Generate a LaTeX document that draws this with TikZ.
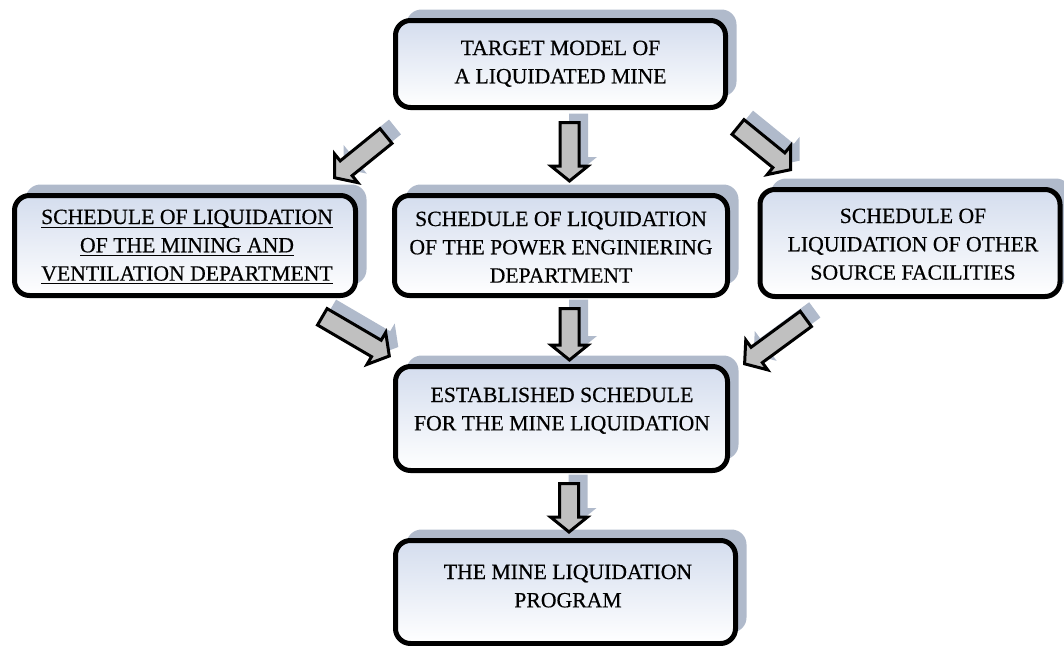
\documentclass[tikz,border=0pt]{standalone}
\usepackage{fontspec}
\setmainfont{Liberation Serif}[FakeBold=0.5]
\usetikzlibrary{calc,shadows}

\definecolor{shadowc}{RGB}{176,186,203}
\definecolor{arrowfill}{RGB}{192,192,192}
\definecolor{boxtop}{RGB}{212,221,238}

% underlined line of text with a thin rule just below the baseline
\newcommand\ulline[1]{\setbox0\hbox{#1}\rlap{\rule[-3.8pt]{\wd0}{1pt}}\box0}

% outline points of a block arrow: #1 name, #2 tail, #3 tip
\newcommand\arrowpoints[3]{%
  \coordinate (#1-b) at ($(#3)!15pt!(#2)$);
  \coordinate (#1-1) at ($(#2)!9.5pt!90:(#3)$);
  \coordinate (#1-2) at ($(#1-b)!9.5pt!-90:(#2)$);
  \coordinate (#1-3) at ($(#1-b)!18.5pt!-90:(#2)$);
  \coordinate (#1-4) at ($(#1-b)!18.5pt!90:(#2)$);
  \coordinate (#1-5) at ($(#1-b)!9.5pt!90:(#2)$);
  \coordinate (#1-6) at ($(#2)!9.5pt!-90:(#3)$);
}
\newcommand\arrowshade[3]{%
  \fill[arrowshadow]
    ([xshift=9pt,yshift=9pt]#1-1) -- ([xshift=9pt,yshift=9pt]#1-2) --
    ([xshift=9pt,yshift=9pt]#1-3) -- ([xshift=9pt,yshift=9pt]#3) --
    ([xshift=9pt,yshift=9pt]#1-4) -- ([xshift=9pt,yshift=9pt]#1-5) --
    ([xshift=9pt,yshift=9pt]#1-6) -- cycle;
}
\newcommand\arrowbody[3]{%
  \draw[blockarrow] (#1-1) -- (#1-2) -- (#1-3) -- (#3) -- (#1-4) -- (#1-5) -- (#1-6) -- cycle;
}

\tikzset{
  box/.style={draw=black, line width=5pt, rounded corners=15pt,
    top color=boxtop, bottom color=white, inner sep=0pt, outer sep=0pt,
    drop shadow={shadow xshift=11pt, shadow yshift=11pt, fill=shadowc, opacity=1}},
  boxtext/.style={anchor=base, inner sep=0pt, outer sep=0pt,
    font=\fontsize{21.7}{28.3}\selectfont},
  blockarrow/.style={draw=black, line width=3pt, fill=arrowfill, line join=miter},
  arrowshadow/.style={fill=shadowc},
}

\begin{document}
\begin{tikzpicture}[x=1pt,y=-1pt]
\path[use as bounding box] (0,0) rectangle (1064,645);

% arrow ends
\coordinate (t12) at (386,136);     \coordinate (h12) at (334.5,177.7);
\coordinate (t13) at (569.5,122.5); \coordinate (h13) at (569.5,181);
\coordinate (t14) at (738,127);     \coordinate (h14) at (790.5,169.7);
\coordinate (t25) at (322.3,316.8); \coordinate (h25) at (389.3,356);
\coordinate (t35) at (569.5,308.5); \coordinate (h35) at (569.5,360);
\coordinate (t45) at (805.8,318.9); \coordinate (h45) at (744.6,363.8);
\coordinate (t56) at (569,483.5);   \coordinate (h56) at (569,532);

\arrowpoints{a12}{t12}{h12}
\arrowpoints{a13}{t13}{h13}
\arrowpoints{a14}{t14}{h14}
\arrowpoints{a25}{t25}{h25}
\arrowpoints{a35}{t35}{h35}
\arrowpoints{a45}{t45}{h45}
\arrowpoints{a56}{t56}{h56}

% arrow shadows
\arrowshade{a12}{t12}{h12}
\arrowshade{a13}{t13}{h13}
\arrowshade{a14}{t14}{h14}
\arrowshade{a25}{t25}{h25}
\arrowshade{a35}{t35}{h35}
\arrowshade{a45}{t45}{h45}
\arrowshade{a56}{t56}{h56}

% boxes
\node[box, minimum width=330pt, minimum height=87pt]  (target)   at (560.5,64)  {};
\node[box, minimum width=341pt, minimum height=100pt] (mining)   at (185,245.5) {};
\node[box, minimum width=333pt, minimum height=100pt] (power)    at (561,245.5) {};
\node[box, minimum width=300pt, minimum height=107pt] (other)    at (910,243) {};
\node[box, minimum width=332pt, minimum height=104pt] (schedule) at (561.5,418.5) {};
\node[box, minimum width=340pt, minimum height=103pt] (program)  at (565.5,592) {};

% arrows
\arrowbody{a12}{t12}{h12}
\arrowbody{a13}{t13}{h13}
\arrowbody{a14}{t14}{h14}
\arrowbody{a25}{t25}{h25}
\arrowbody{a35}{t35}{h35}
\arrowbody{a45}{t45}{h45}
\arrowbody{a56}{t56}{h56}

% texts
\node[boxtext] (target-t) at (560.5,55) {\begin{tabular}[t]{@{}c@{}}TARGET MODEL OF\\A LIQUIDATED MINE\end{tabular}};
\node[boxtext] (mining-t) at (187,224) {\begin{tabular}[t]{@{}c@{}}\ulline{SCHEDULE OF LIQUIDATION}\\\ulline{OF THE MINING AND}\\\ulline{VENTILATION DEPARTMENT}\end{tabular}};
\node[boxtext] (power-t) at (561,226) {\begin{tabular}[t]{@{}c@{}}SCHEDULE OF LIQUIDATION\\OF THE POWER ENGINIERING\\DEPARTMENT\end{tabular}};
\node[boxtext] (other-t) at (913,223) {\begin{tabular}[t]{@{}c@{}}SCHEDULE OF\\LIQUIDATION OF OTHER\\SOURCE FACILITIES\end{tabular}};
\node[boxtext] (schedule-t) at (562,402) {\begin{tabular}[t]{@{}c@{}}ESTABLISHED SCHEDULE\\FOR THE MINE LIQUIDATION\end{tabular}};
\node[boxtext] (program-t) at (568,579) {\begin{tabular}[t]{@{}c@{}}THE MINE LIQUIDATION\\PROGRAM\end{tabular}};
\end{tikzpicture}
\end{document}
